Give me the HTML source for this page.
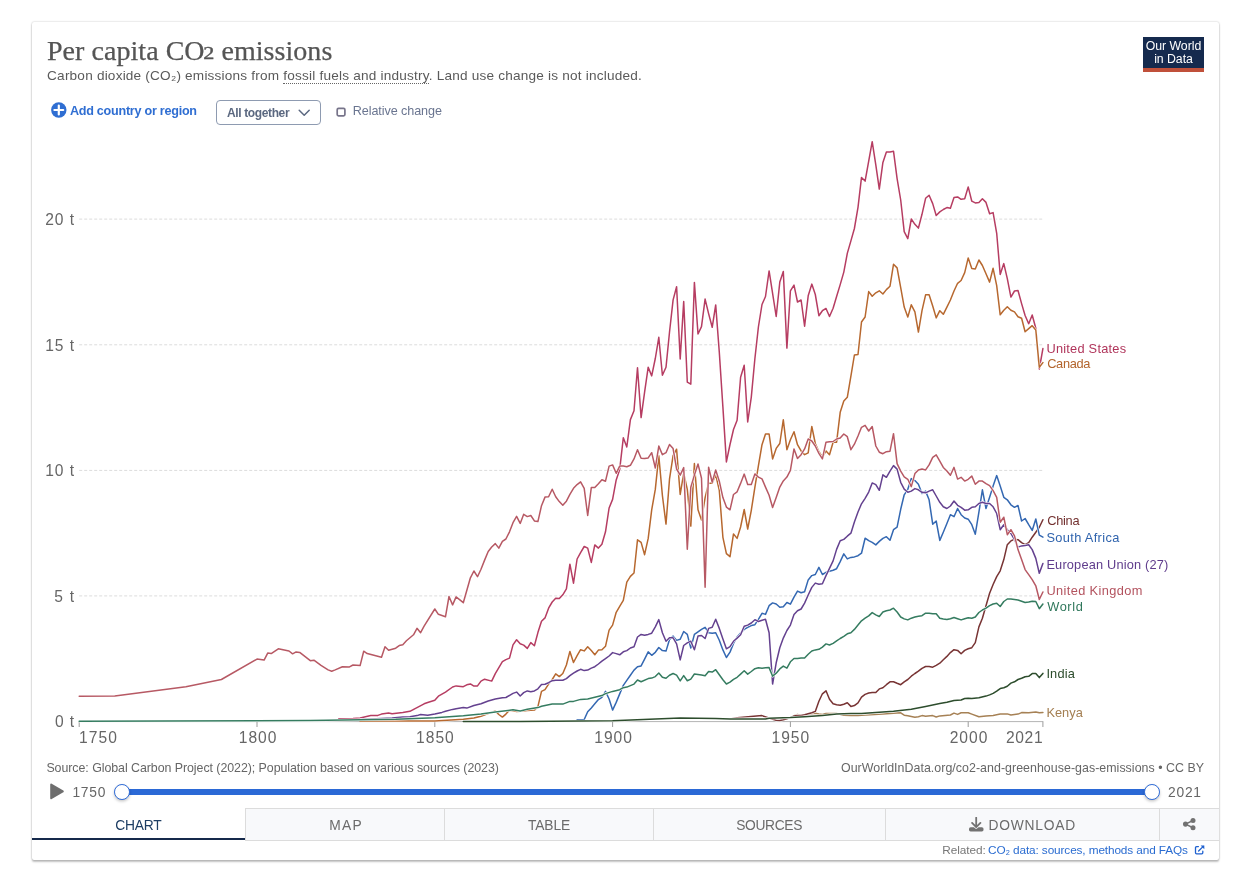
<!DOCTYPE html><html lang="en"><head><meta charset="utf-8"><title>Per capita CO₂ emissions</title><style>
html,body{margin:0;padding:0;background:#fff;}
body{width:1250px;height:882px;position:relative;overflow:hidden;}
.frame{position:absolute;left:32px;top:22px;width:1187px;height:838px;background:#fff;border-radius:2px;box-shadow:0 0 2px rgba(0,0,0,.27),0 2px 2px rgba(0,0,0,.23);}
.t{position:absolute;white-space:nowrap;}
.chart{position:absolute;left:0;top:0;}
.abs{position:absolute;}
.s2{display:inline-block;transform-origin:0 100%;transform:translate(-2.8px,-6.1px) scale(1.32,1.06);margin:0 -0.4px 0 0.4px;-webkit-text-stroke:0.35px #555;}
.dod{border-bottom:1px dotted #666;}
.logo{position:absolute;left:1143px;top:37px;width:61px;height:31px;background:#152a4e;border-bottom:4px solid #c0503a;color:#fff;font:400 12.3px/13px "Liberation Sans",sans-serif;text-align:center;letter-spacing:-0.05px;}
.logo span{display:block;}
.tab{position:absolute;top:808px;height:33px;background:#f8f9fb;border-top:1px solid #dcdcdc;border-left:1px solid #dcdcdc;border-bottom:1px solid #dcdcdc;box-sizing:border-box;}
</style></head><body>
<div class="frame"></div>
<div class="logo"><span style="margin-top:3px">Our World</span><span>in Data</span></div>
<svg class="abs" style="left:51px;top:102px" width="16" height="16" viewBox="0 0 16 16"><circle cx="7.8" cy="8" r="7.7" fill="#2f6ed2"/><path d="M7.8 3.6v8.8M3.4 8h8.8" stroke="#fff" stroke-width="2.2" stroke-linecap="round"/></svg>
<div class="abs" style="left:216px;top:100px;width:104.5px;height:25px;box-sizing:border-box;border:1px solid #8e9bb1;border-radius:4px;"></div>
<svg class="abs" style="left:297px;top:107px" width="14" height="12" viewBox="0 0 14 12"><path d="M2.2 3.3L7.2 8.3L12.2 3.3" fill="none" stroke="#5b6880" stroke-width="1.5" stroke-linecap="round" stroke-linejoin="round"/></svg>
<svg class="abs" style="left:334px;top:105px" width="14" height="14" viewBox="0 0 14 14"><rect x="3.2" y="3.4" width="7.7" height="7.4" rx="1.3" fill="#fff" stroke="#77748a" stroke-width="1.7"/></svg>
<svg class="chart" width="1250" height="882" viewBox="0 0 1250 882">
<line x1="79.2" x2="1042.8" y1="219.1" y2="219.1" stroke="#dcdcdc" stroke-width="1" stroke-dasharray="3,2"/>
<line x1="79.2" x2="1042.8" y1="344.8" y2="344.8" stroke="#dcdcdc" stroke-width="1" stroke-dasharray="3,2"/>
<line x1="79.2" x2="1042.8" y1="470.4" y2="470.4" stroke="#dcdcdc" stroke-width="1" stroke-dasharray="3,2"/>
<line x1="79.2" x2="1042.8" y1="595.9" y2="595.9" stroke="#dcdcdc" stroke-width="1" stroke-dasharray="3,2"/>
<line x1="79.2" x2="1043.3" y1="721.6" y2="721.6" stroke="#b4b4b4" stroke-width="1"/>
<line x1="79.2" x2="79.2" y1="721.6" y2="727" stroke="#9c9c9c" stroke-width="1"/>
<line x1="257.0" x2="257.0" y1="721.6" y2="727" stroke="#9c9c9c" stroke-width="1"/>
<line x1="434.8" x2="434.8" y1="721.6" y2="727" stroke="#9c9c9c" stroke-width="1"/>
<line x1="612.6" x2="612.6" y1="721.6" y2="727" stroke="#9c9c9c" stroke-width="1"/>
<line x1="790.4" x2="790.4" y1="721.6" y2="727" stroke="#9c9c9c" stroke-width="1"/>
<line x1="968.2" x2="968.2" y1="721.6" y2="727" stroke="#9c9c9c" stroke-width="1"/>
<line x1="1042.9" x2="1042.9" y1="721.6" y2="727" stroke="#9c9c9c" stroke-width="1"/>
<path d="M794.0,715.6 L797.5,714.4 L801.1,715.4 L808.2,714.0 L815.3,713.2 L818.9,714.0 L822.4,714.4 L826.0,713.6 L829.5,713.6 L836.6,713.4 L843.8,715.2 L850.9,715.4 L858.0,715.4 L861.5,715.2 L882.9,714.0 L897.1,713.0 L900.7,712.8 L904.2,715.2 L907.8,715.8 L911.3,716.4 L914.9,717.2 L918.4,716.8 L922.0,715.6 L925.6,716.2 L932.7,715.6 L936.2,717.0 L939.8,715.9 L950.4,715.0 L954.0,713.1 L957.6,714.4 L961.1,712.8 L968.2,712.8 L971.8,714.1 L978.9,716.8 L986.0,715.9 L993.1,715.4 L1000.2,714.1 L1007.3,713.9 L1010.9,715.0 L1018.0,714.1 L1021.6,712.6 L1028.7,712.8 L1035.8,711.9 L1039.3,712.8 L1042.9,712.4" fill="none" stroke="#fff" stroke-width="2.6" stroke-linejoin="round" stroke-linecap="butt"/>
<path d="M794.0,715.6 L797.5,714.4 L801.1,715.4 L808.2,714.0 L815.3,713.2 L818.9,714.0 L822.4,714.4 L826.0,713.6 L829.5,713.6 L836.6,713.4 L843.8,715.2 L850.9,715.4 L858.0,715.4 L861.5,715.2 L882.9,714.0 L897.1,713.0 L900.7,712.8 L904.2,715.2 L907.8,715.8 L911.3,716.4 L914.9,717.2 L918.4,716.8 L922.0,715.6 L925.6,716.2 L932.7,715.6 L936.2,717.0 L939.8,715.9 L950.4,715.0 L954.0,713.1 L957.6,714.4 L961.1,712.8 L968.2,712.8 L971.8,714.1 L978.9,716.8 L986.0,715.9 L993.1,715.4 L1000.2,714.1 L1007.3,713.9 L1010.9,715.0 L1018.0,714.1 L1021.6,712.6 L1028.7,712.8 L1035.8,711.9 L1039.3,712.8 L1042.9,712.4" fill="none" stroke="#a68155" stroke-width="1.5" stroke-linejoin="round" stroke-linecap="round"/>
<path d="M338.8,718.8 L353.0,718.4 L360.1,718.0 L370.8,715.6 L377.9,715.4 L381.5,714.1 L388.6,713.0 L392.1,713.7 L402.8,712.6 L409.9,711.3 L417.0,707.6 L424.1,703.8 L427.7,702.5 L434.8,700.3 L438.4,696.2 L445.5,692.1 L452.6,687.0 L456.1,685.9 L463.3,686.7 L466.8,684.8 L470.4,683.9 L473.9,686.1 L477.5,685.9 L481.0,681.1 L484.6,679.2 L491.7,681.1 L495.3,673.6 L502.4,661.7 L505.9,659.6 L509.5,658.1 L513.0,644.9 L516.6,639.8 L520.2,643.8 L523.7,645.1 L527.3,648.4 L530.8,642.6 L534.4,645.8 L537.9,632.6 L541.5,621.3 L545.0,617.9 L548.6,608.2 L552.2,602.0 L555.7,598.2 L559.3,598.6 L562.8,594.8 L566.4,588.9 L569.9,564.2 L573.5,583.2 L577.1,559.0 L580.6,552.6 L584.2,546.5 L587.7,548.1 L591.3,562.4 L594.8,544.9 L598.4,548.1 L601.9,544.2 L605.5,531.8 L609.1,508.0 L612.6,499.4 L616.2,479.9 L619.7,469.4 L623.3,437.8 L626.8,447.0 L630.4,419.6 L634.0,410.8 L637.5,367.7 L641.1,417.6 L644.6,392.1 L648.2,367.2 L651.7,375.9 L655.3,358.5 L658.8,337.3 L662.4,375.2 L666.0,367.2 L669.5,332.3 L673.1,299.9 L676.6,286.7 L680.2,359.0 L683.7,301.6 L687.3,382.2 L690.8,384.2 L694.4,282.4 L698.0,334.0 L701.5,326.6 L705.1,299.1 L708.6,313.6 L712.2,327.3 L715.7,304.9 L719.3,352.2 L722.9,407.1 L726.4,461.9 L730.0,444.5 L733.5,429.5 L737.1,420.3 L740.6,377.2 L744.2,365.2 L747.7,422.0 L751.3,397.1 L754.9,358.5 L758.4,327.0 L762.0,304.5 L765.5,296.5 L769.1,270.9 L772.6,293.3 L776.2,316.5 L779.8,282.1 L783.3,271.4 L786.9,348.1 L790.4,290.8 L794.0,285.1 L797.5,302.0 L801.1,300.0 L804.6,326.2 L808.2,295.8 L811.8,284.1 L815.3,294.5 L818.9,315.7 L822.4,310.7 L826.0,308.5 L829.5,316.5 L833.1,308.3 L836.6,296.5 L840.2,284.6 L843.8,272.1 L847.3,253.4 L850.9,240.9 L854.4,228.5 L858.0,207.3 L861.5,177.4 L865.1,181.1 L868.7,161.2 L872.2,141.7 L875.8,164.9 L879.3,189.1 L882.9,162.4 L886.4,151.9 L890.0,151.9 L893.5,151.2 L897.1,178.6 L900.7,200.0 L904.2,231.7 L907.8,238.6 L911.3,219.0 L914.9,224.3 L918.4,228.1 L922.0,214.3 L925.6,198.3 L929.1,195.2 L932.7,203.6 L936.2,215.5 L939.8,211.9 L943.3,209.5 L946.9,207.6 L950.4,208.3 L954.0,197.6 L957.6,196.9 L961.1,199.3 L964.7,198.8 L968.2,186.9 L971.8,201.2 L975.3,202.9 L978.9,202.4 L982.4,198.8 L986.0,202.4 L989.6,213.8 L993.1,212.6 L996.7,233.3 L1000.2,274.5 L1003.8,263.6 L1007.3,278.6 L1010.9,297.1 L1014.5,291.0 L1018.0,290.5 L1021.6,303.6 L1025.1,315.5 L1028.7,323.8 L1032.2,315.0 L1035.8,328.2 L1039.3,369.0 L1042.9,348.6" fill="none" stroke="#fff" stroke-width="2.6" stroke-linejoin="round" stroke-linecap="butt"/>
<path d="M338.8,718.8 L353.0,718.4 L360.1,718.0 L370.8,715.6 L377.9,715.4 L381.5,714.1 L388.6,713.0 L392.1,713.7 L402.8,712.6 L409.9,711.3 L417.0,707.6 L424.1,703.8 L427.7,702.5 L434.8,700.3 L438.4,696.2 L445.5,692.1 L452.6,687.0 L456.1,685.9 L463.3,686.7 L466.8,684.8 L470.4,683.9 L473.9,686.1 L477.5,685.9 L481.0,681.1 L484.6,679.2 L491.7,681.1 L495.3,673.6 L502.4,661.7 L505.9,659.6 L509.5,658.1 L513.0,644.9 L516.6,639.8 L520.2,643.8 L523.7,645.1 L527.3,648.4 L530.8,642.6 L534.4,645.8 L537.9,632.6 L541.5,621.3 L545.0,617.9 L548.6,608.2 L552.2,602.0 L555.7,598.2 L559.3,598.6 L562.8,594.8 L566.4,588.9 L569.9,564.2 L573.5,583.2 L577.1,559.0 L580.6,552.6 L584.2,546.5 L587.7,548.1 L591.3,562.4 L594.8,544.9 L598.4,548.1 L601.9,544.2 L605.5,531.8 L609.1,508.0 L612.6,499.4 L616.2,479.9 L619.7,469.4 L623.3,437.8 L626.8,447.0 L630.4,419.6 L634.0,410.8 L637.5,367.7 L641.1,417.6 L644.6,392.1 L648.2,367.2 L651.7,375.9 L655.3,358.5 L658.8,337.3 L662.4,375.2 L666.0,367.2 L669.5,332.3 L673.1,299.9 L676.6,286.7 L680.2,359.0 L683.7,301.6 L687.3,382.2 L690.8,384.2 L694.4,282.4 L698.0,334.0 L701.5,326.6 L705.1,299.1 L708.6,313.6 L712.2,327.3 L715.7,304.9 L719.3,352.2 L722.9,407.1 L726.4,461.9 L730.0,444.5 L733.5,429.5 L737.1,420.3 L740.6,377.2 L744.2,365.2 L747.7,422.0 L751.3,397.1 L754.9,358.5 L758.4,327.0 L762.0,304.5 L765.5,296.5 L769.1,270.9 L772.6,293.3 L776.2,316.5 L779.8,282.1 L783.3,271.4 L786.9,348.1 L790.4,290.8 L794.0,285.1 L797.5,302.0 L801.1,300.0 L804.6,326.2 L808.2,295.8 L811.8,284.1 L815.3,294.5 L818.9,315.7 L822.4,310.7 L826.0,308.5 L829.5,316.5 L833.1,308.3 L836.6,296.5 L840.2,284.6 L843.8,272.1 L847.3,253.4 L850.9,240.9 L854.4,228.5 L858.0,207.3 L861.5,177.4 L865.1,181.1 L868.7,161.2 L872.2,141.7 L875.8,164.9 L879.3,189.1 L882.9,162.4 L886.4,151.9 L890.0,151.9 L893.5,151.2 L897.1,178.6 L900.7,200.0 L904.2,231.7 L907.8,238.6 L911.3,219.0 L914.9,224.3 L918.4,228.1 L922.0,214.3 L925.6,198.3 L929.1,195.2 L932.7,203.6 L936.2,215.5 L939.8,211.9 L943.3,209.5 L946.9,207.6 L950.4,208.3 L954.0,197.6 L957.6,196.9 L961.1,199.3 L964.7,198.8 L968.2,186.9 L971.8,201.2 L975.3,202.9 L978.9,202.4 L982.4,198.8 L986.0,202.4 L989.6,213.8 L993.1,212.6 L996.7,233.3 L1000.2,274.5 L1003.8,263.6 L1007.3,278.6 L1010.9,297.1 L1014.5,291.0 L1018.0,290.5 L1021.6,303.6 L1025.1,315.5 L1028.7,323.8 L1032.2,315.0 L1035.8,328.2 L1039.3,369.0 L1042.9,348.6" fill="none" stroke="#b63d62" stroke-width="1.5" stroke-linejoin="round" stroke-linecap="round"/>
<path d="M360.1,721.0 L434.8,721.0 L463.3,719.3 L473.9,718.0 L481.0,716.3 L488.2,713.5 L491.7,712.4 L495.3,710.9 L498.8,714.5 L502.4,717.1 L505.9,714.1 L509.5,710.2 L513.0,710.7 L516.6,711.5 L520.2,711.3 L527.3,710.6 L534.4,710.1 L537.9,706.7 L541.5,691.4 L545.0,689.7 L548.6,684.1 L552.2,679.5 L555.7,673.9 L559.3,676.6 L562.8,673.5 L566.4,665.0 L569.9,651.4 L573.5,662.5 L577.1,655.7 L580.6,649.7 L584.2,650.9 L587.7,646.8 L591.3,650.6 L594.8,654.8 L598.4,650.1 L601.9,649.7 L605.5,646.3 L609.1,630.2 L612.6,625.1 L616.2,612.3 L619.7,606.4 L623.3,600.4 L626.8,582.2 L630.4,576.4 L634.0,573.0 L637.5,539.8 L641.1,542.4 L644.6,554.7 L648.2,538.4 L651.7,509.8 L655.3,489.4 L658.8,455.7 L662.4,495.5 L666.0,524.1 L669.5,479.2 L673.1,455.7 L676.6,449.2 L680.2,494.5 L683.7,473.1 L687.3,489.4 L690.8,526.1 L694.4,463.5 L698.0,509.8 L701.5,520.0 L705.1,497.6 L708.6,483.3 L712.2,483.3 L715.7,474.7 L719.3,490.4 L722.9,537.3 L726.4,553.7 L730.0,556.7 L733.5,533.9 L737.1,538.4 L740.6,527.0 L744.2,509.5 L747.7,529.0 L751.3,510.3 L754.9,487.1 L758.4,465.9 L762.0,444.7 L765.5,434.0 L769.1,434.0 L772.6,458.9 L776.2,448.4 L779.8,443.5 L783.3,419.8 L786.9,449.7 L790.4,439.7 L794.0,431.7 L797.5,444.7 L801.1,450.9 L804.6,454.7 L808.2,452.9 L811.8,426.5 L815.3,443.5 L818.9,451.7 L822.4,457.2 L826.0,450.9 L829.5,454.7 L833.1,442.2 L836.6,442.2 L840.2,412.3 L843.8,401.1 L847.3,397.3 L850.9,376.1 L854.4,355.0 L858.0,354.5 L861.5,322.0 L865.1,317.0 L868.7,291.6 L872.2,296.3 L875.8,292.8 L879.3,290.8 L882.9,294.0 L886.4,289.6 L890.0,286.2 L893.5,264.3 L897.1,267.9 L900.7,287.6 L904.2,307.1 L907.8,317.1 L911.3,304.8 L914.9,311.9 L918.4,332.1 L922.0,310.7 L925.6,294.8 L929.1,294.8 L932.7,306.0 L936.2,317.9 L939.8,310.7 L943.3,314.3 L946.9,307.1 L950.4,300.0 L954.0,291.0 L957.6,283.3 L961.1,280.5 L964.7,272.6 L968.2,257.9 L971.8,268.6 L975.3,269.0 L978.9,260.0 L982.4,265.5 L986.0,273.8 L989.6,282.1 L993.1,268.3 L996.7,285.7 L1000.2,314.8 L1003.8,310.2 L1007.3,306.7 L1010.9,310.2 L1014.5,311.9 L1018.0,316.7 L1021.6,318.3 L1025.1,331.7 L1028.7,328.6 L1032.2,325.7 L1035.8,330.0 L1039.3,367.2 L1042.9,362.6" fill="none" stroke="#fff" stroke-width="2.6" stroke-linejoin="round" stroke-linecap="butt"/>
<path d="M360.1,721.0 L434.8,721.0 L463.3,719.3 L473.9,718.0 L481.0,716.3 L488.2,713.5 L491.7,712.4 L495.3,710.9 L498.8,714.5 L502.4,717.1 L505.9,714.1 L509.5,710.2 L513.0,710.7 L516.6,711.5 L520.2,711.3 L527.3,710.6 L534.4,710.1 L537.9,706.7 L541.5,691.4 L545.0,689.7 L548.6,684.1 L552.2,679.5 L555.7,673.9 L559.3,676.6 L562.8,673.5 L566.4,665.0 L569.9,651.4 L573.5,662.5 L577.1,655.7 L580.6,649.7 L584.2,650.9 L587.7,646.8 L591.3,650.6 L594.8,654.8 L598.4,650.1 L601.9,649.7 L605.5,646.3 L609.1,630.2 L612.6,625.1 L616.2,612.3 L619.7,606.4 L623.3,600.4 L626.8,582.2 L630.4,576.4 L634.0,573.0 L637.5,539.8 L641.1,542.4 L644.6,554.7 L648.2,538.4 L651.7,509.8 L655.3,489.4 L658.8,455.7 L662.4,495.5 L666.0,524.1 L669.5,479.2 L673.1,455.7 L676.6,449.2 L680.2,494.5 L683.7,473.1 L687.3,489.4 L690.8,526.1 L694.4,463.5 L698.0,509.8 L701.5,520.0 L705.1,497.6 L708.6,483.3 L712.2,483.3 L715.7,474.7 L719.3,490.4 L722.9,537.3 L726.4,553.7 L730.0,556.7 L733.5,533.9 L737.1,538.4 L740.6,527.0 L744.2,509.5 L747.7,529.0 L751.3,510.3 L754.9,487.1 L758.4,465.9 L762.0,444.7 L765.5,434.0 L769.1,434.0 L772.6,458.9 L776.2,448.4 L779.8,443.5 L783.3,419.8 L786.9,449.7 L790.4,439.7 L794.0,431.7 L797.5,444.7 L801.1,450.9 L804.6,454.7 L808.2,452.9 L811.8,426.5 L815.3,443.5 L818.9,451.7 L822.4,457.2 L826.0,450.9 L829.5,454.7 L833.1,442.2 L836.6,442.2 L840.2,412.3 L843.8,401.1 L847.3,397.3 L850.9,376.1 L854.4,355.0 L858.0,354.5 L861.5,322.0 L865.1,317.0 L868.7,291.6 L872.2,296.3 L875.8,292.8 L879.3,290.8 L882.9,294.0 L886.4,289.6 L890.0,286.2 L893.5,264.3 L897.1,267.9 L900.7,287.6 L904.2,307.1 L907.8,317.1 L911.3,304.8 L914.9,311.9 L918.4,332.1 L922.0,310.7 L925.6,294.8 L929.1,294.8 L932.7,306.0 L936.2,317.9 L939.8,310.7 L943.3,314.3 L946.9,307.1 L950.4,300.0 L954.0,291.0 L957.6,283.3 L961.1,280.5 L964.7,272.6 L968.2,257.9 L971.8,268.6 L975.3,269.0 L978.9,260.0 L982.4,265.5 L986.0,273.8 L989.6,282.1 L993.1,268.3 L996.7,285.7 L1000.2,314.8 L1003.8,310.2 L1007.3,306.7 L1010.9,310.2 L1014.5,311.9 L1018.0,316.7 L1021.6,318.3 L1025.1,331.7 L1028.7,328.6 L1032.2,325.7 L1035.8,330.0 L1039.3,367.2 L1042.9,362.6" fill="none" stroke="#b7682f" stroke-width="1.5" stroke-linejoin="round" stroke-linecap="round"/>
<path d="M730.0,718.9 L737.1,717.8 L762.0,715.6 L772.6,719.2 L776.2,720.2 L779.8,720.4 L783.3,719.8 L786.9,718.8 L790.4,717.6 L794.0,716.0 L797.5,715.4 L801.1,715.6 L804.6,714.8 L808.2,713.8 L811.8,712.8 L815.3,711.4 L818.9,701.2 L822.4,693.8 L826.0,690.8 L829.5,699.2 L833.1,703.8 L836.6,704.8 L840.2,705.2 L843.8,704.2 L847.3,702.8 L850.9,706.4 L854.4,705.6 L858.0,702.8 L861.5,697.2 L865.1,694.4 L868.7,693.0 L872.2,692.5 L875.8,692.5 L879.3,688.9 L882.9,687.8 L886.4,684.7 L890.0,681.8 L893.5,681.8 L897.1,683.3 L900.7,684.7 L904.2,681.8 L907.8,679.5 L911.3,676.2 L914.9,673.5 L918.4,671.2 L922.0,668.3 L925.6,666.5 L929.1,666.5 L932.7,667.2 L936.2,665.4 L939.8,663.2 L943.3,659.8 L946.9,656.4 L950.4,652.6 L954.0,649.7 L957.6,650.4 L961.1,653.8 L964.7,650.4 L968.2,648.8 L971.8,647.7 L975.3,642.6 L978.9,626.9 L982.4,618.2 L986.0,605.7 L989.6,593.3 L993.1,584.5 L996.7,576.6 L1000.2,570.8 L1003.8,559.6 L1007.3,544.7 L1010.9,540.9 L1014.5,539.2 L1018.0,539.7 L1021.6,542.7 L1025.1,544.7 L1028.7,542.7 L1032.2,537.2 L1035.8,532.2 L1039.3,527.2 L1042.9,519.7" fill="none" stroke="#fff" stroke-width="2.6" stroke-linejoin="round" stroke-linecap="butt"/>
<path d="M730.0,718.9 L737.1,717.8 L762.0,715.6 L772.6,719.2 L776.2,720.2 L779.8,720.4 L783.3,719.8 L786.9,718.8 L790.4,717.6 L794.0,716.0 L797.5,715.4 L801.1,715.6 L804.6,714.8 L808.2,713.8 L811.8,712.8 L815.3,711.4 L818.9,701.2 L822.4,693.8 L826.0,690.8 L829.5,699.2 L833.1,703.8 L836.6,704.8 L840.2,705.2 L843.8,704.2 L847.3,702.8 L850.9,706.4 L854.4,705.6 L858.0,702.8 L861.5,697.2 L865.1,694.4 L868.7,693.0 L872.2,692.5 L875.8,692.5 L879.3,688.9 L882.9,687.8 L886.4,684.7 L890.0,681.8 L893.5,681.8 L897.1,683.3 L900.7,684.7 L904.2,681.8 L907.8,679.5 L911.3,676.2 L914.9,673.5 L918.4,671.2 L922.0,668.3 L925.6,666.5 L929.1,666.5 L932.7,667.2 L936.2,665.4 L939.8,663.2 L943.3,659.8 L946.9,656.4 L950.4,652.6 L954.0,649.7 L957.6,650.4 L961.1,653.8 L964.7,650.4 L968.2,648.8 L971.8,647.7 L975.3,642.6 L978.9,626.9 L982.4,618.2 L986.0,605.7 L989.6,593.3 L993.1,584.5 L996.7,576.6 L1000.2,570.8 L1003.8,559.6 L1007.3,544.7 L1010.9,540.9 L1014.5,539.2 L1018.0,539.7 L1021.6,542.7 L1025.1,544.7 L1028.7,542.7 L1032.2,537.2 L1035.8,532.2 L1039.3,527.2 L1042.9,519.7" fill="none" stroke="#783434" stroke-width="1.5" stroke-linejoin="round" stroke-linecap="round"/>
<path d="M577.1,719.8 L584.2,719.5 L587.7,711.8 L591.3,707.9 L594.8,703.8 L598.4,699.6 L601.9,697.3 L605.5,691.4 L609.1,699.0 L612.6,710.1 L616.2,702.4 L619.7,693.9 L623.3,685.4 L626.8,680.3 L630.4,675.2 L634.0,670.1 L637.5,666.7 L641.1,665.9 L644.6,659.1 L648.2,651.9 L651.7,655.3 L655.3,652.3 L658.8,647.5 L662.4,650.6 L666.0,651.1 L669.5,639.5 L673.1,636.1 L676.6,640.4 L680.2,639.2 L683.7,631.5 L687.3,634.4 L690.8,648.0 L694.4,634.4 L698.0,631.9 L701.5,629.4 L705.1,627.3 L708.6,632.7 L712.2,633.3 L715.7,632.7 L719.3,640.2 L722.9,649.9 L726.4,657.5 L730.0,652.1 L733.5,643.4 L737.1,637.0 L740.6,633.1 L744.2,629.4 L747.7,627.3 L751.3,625.6 L754.9,624.7 L758.4,619.3 L762.0,613.3 L765.5,614.4 L769.1,605.7 L772.6,602.9 L776.2,604.0 L779.8,607.2 L783.3,606.8 L786.9,602.5 L790.4,604.2 L794.0,597.1 L797.5,591.1 L801.1,592.8 L804.6,591.7 L808.2,579.9 L811.8,575.6 L815.3,574.5 L818.9,567.4 L822.4,574.5 L826.0,572.3 L829.5,571.2 L833.1,570.2 L836.6,568.7 L840.2,561.6 L843.8,553.9 L847.3,558.9 L850.9,557.4 L854.4,556.9 L858.0,555.7 L861.5,553.2 L865.1,538.2 L868.7,540.7 L872.2,542.4 L875.8,544.9 L879.3,541.4 L882.9,538.4 L886.4,536.7 L890.0,540.2 L893.5,529.7 L897.1,527.2 L900.7,509.3 L904.2,494.8 L907.8,489.3 L911.3,478.6 L914.9,480.6 L918.4,484.3 L922.0,493.5 L925.6,491.1 L929.1,499.8 L932.7,524.2 L936.2,521.0 L939.8,540.4 L943.3,532.2 L946.9,523.5 L950.4,514.7 L954.0,516.7 L957.6,508.5 L961.1,514.7 L964.7,518.0 L968.2,519.2 L971.8,524.7 L975.3,534.2 L978.9,512.2 L982.4,489.8 L986.0,508.5 L989.6,497.3 L993.1,486.1 L996.7,475.6 L1000.2,486.1 L1003.8,497.3 L1007.3,499.8 L1010.9,504.8 L1014.5,507.3 L1018.0,505.5 L1021.6,521.0 L1025.1,518.5 L1028.7,524.7 L1032.2,530.4 L1035.8,519.0 L1039.3,535.2 L1042.9,537.2" fill="none" stroke="#fff" stroke-width="2.6" stroke-linejoin="round" stroke-linecap="butt"/>
<path d="M577.1,719.8 L584.2,719.5 L587.7,711.8 L591.3,707.9 L594.8,703.8 L598.4,699.6 L601.9,697.3 L605.5,691.4 L609.1,699.0 L612.6,710.1 L616.2,702.4 L619.7,693.9 L623.3,685.4 L626.8,680.3 L630.4,675.2 L634.0,670.1 L637.5,666.7 L641.1,665.9 L644.6,659.1 L648.2,651.9 L651.7,655.3 L655.3,652.3 L658.8,647.5 L662.4,650.6 L666.0,651.1 L669.5,639.5 L673.1,636.1 L676.6,640.4 L680.2,639.2 L683.7,631.5 L687.3,634.4 L690.8,648.0 L694.4,634.4 L698.0,631.9 L701.5,629.4 L705.1,627.3 L708.6,632.7 L712.2,633.3 L715.7,632.7 L719.3,640.2 L722.9,649.9 L726.4,657.5 L730.0,652.1 L733.5,643.4 L737.1,637.0 L740.6,633.1 L744.2,629.4 L747.7,627.3 L751.3,625.6 L754.9,624.7 L758.4,619.3 L762.0,613.3 L765.5,614.4 L769.1,605.7 L772.6,602.9 L776.2,604.0 L779.8,607.2 L783.3,606.8 L786.9,602.5 L790.4,604.2 L794.0,597.1 L797.5,591.1 L801.1,592.8 L804.6,591.7 L808.2,579.9 L811.8,575.6 L815.3,574.5 L818.9,567.4 L822.4,574.5 L826.0,572.3 L829.5,571.2 L833.1,570.2 L836.6,568.7 L840.2,561.6 L843.8,553.9 L847.3,558.9 L850.9,557.4 L854.4,556.9 L858.0,555.7 L861.5,553.2 L865.1,538.2 L868.7,540.7 L872.2,542.4 L875.8,544.9 L879.3,541.4 L882.9,538.4 L886.4,536.7 L890.0,540.2 L893.5,529.7 L897.1,527.2 L900.7,509.3 L904.2,494.8 L907.8,489.3 L911.3,478.6 L914.9,480.6 L918.4,484.3 L922.0,493.5 L925.6,491.1 L929.1,499.8 L932.7,524.2 L936.2,521.0 L939.8,540.4 L943.3,532.2 L946.9,523.5 L950.4,514.7 L954.0,516.7 L957.6,508.5 L961.1,514.7 L964.7,518.0 L968.2,519.2 L971.8,524.7 L975.3,534.2 L978.9,512.2 L982.4,489.8 L986.0,508.5 L989.6,497.3 L993.1,486.1 L996.7,475.6 L1000.2,486.1 L1003.8,497.3 L1007.3,499.8 L1010.9,504.8 L1014.5,507.3 L1018.0,505.5 L1021.6,521.0 L1025.1,518.5 L1028.7,524.7 L1032.2,530.4 L1035.8,519.0 L1039.3,535.2 L1042.9,537.2" fill="none" stroke="#3468b2" stroke-width="1.5" stroke-linejoin="round" stroke-linecap="round"/>
<path d="M360.1,719.5 L381.5,718.4 L392.1,718.0 L402.8,717.1 L409.9,716.7 L417.0,715.6 L420.6,714.5 L427.7,715.2 L434.8,714.1 L441.9,712.4 L445.5,711.3 L452.6,709.4 L456.1,708.7 L463.3,707.6 L466.8,708.1 L473.9,705.5 L481.0,703.8 L488.2,701.0 L495.3,699.0 L502.4,697.7 L505.9,697.5 L513.0,693.4 L516.6,692.1 L520.2,696.0 L523.7,692.6 L527.3,690.9 L530.8,691.7 L534.4,690.9 L537.9,688.8 L541.5,684.6 L545.0,684.3 L548.6,682.7 L552.2,680.7 L555.7,680.3 L559.3,680.3 L562.8,680.3 L566.4,678.6 L569.9,675.7 L573.5,673.2 L577.1,671.0 L580.6,669.3 L584.2,670.6 L587.7,670.1 L591.3,668.1 L594.8,666.7 L598.4,664.0 L601.9,661.1 L605.5,658.7 L609.1,656.0 L612.6,652.6 L616.2,653.6 L619.7,654.8 L623.3,651.8 L626.8,650.6 L630.4,648.0 L634.0,646.8 L637.5,637.0 L641.1,634.4 L644.6,635.3 L648.2,634.4 L651.7,633.2 L655.3,626.8 L658.8,619.6 L662.4,632.7 L666.0,641.2 L669.5,637.8 L673.1,637.8 L676.6,643.8 L680.2,659.9 L683.7,645.5 L687.3,642.9 L690.8,641.2 L694.4,649.7 L698.0,636.1 L701.5,635.5 L705.1,638.5 L708.6,628.4 L712.2,627.3 L715.7,619.3 L719.3,628.4 L722.9,639.1 L726.4,648.8 L730.0,646.7 L733.5,641.3 L737.1,638.1 L740.6,634.8 L744.2,626.2 L747.7,625.1 L751.3,623.0 L754.9,619.7 L758.4,621.5 L762.0,620.2 L765.5,619.3 L769.1,632.7 L772.6,684.0 L776.2,662.8 L779.8,647.8 L783.3,638.1 L786.9,630.5 L790.4,625.1 L794.0,614.4 L797.5,610.7 L801.1,609.0 L804.6,603.1 L808.2,595.0 L811.8,587.4 L815.3,583.1 L818.9,584.2 L822.4,583.8 L826.0,575.6 L829.5,568.4 L833.1,560.9 L836.6,549.4 L840.2,540.7 L843.8,539.4 L847.3,536.2 L850.9,533.2 L854.4,522.0 L858.0,512.0 L861.5,503.8 L865.1,498.3 L868.7,492.1 L872.2,482.9 L875.8,484.6 L879.3,490.3 L882.9,474.8 L886.4,477.3 L890.0,471.1 L893.5,465.6 L897.1,469.1 L900.7,482.3 L904.2,489.1 L907.8,492.3 L911.3,491.1 L914.9,488.6 L918.4,489.8 L922.0,492.3 L925.6,492.8 L929.1,491.1 L932.7,489.8 L936.2,496.0 L939.8,502.3 L943.3,506.8 L946.9,508.5 L950.4,506.0 L954.0,501.0 L957.6,505.3 L961.1,507.3 L964.7,510.2 L968.2,509.8 L971.8,507.3 L975.3,506.8 L978.9,503.5 L982.4,502.3 L986.0,503.5 L989.6,503.5 L993.1,506.8 L996.7,513.5 L1000.2,529.7 L1003.8,524.7 L1007.3,529.7 L1010.9,533.4 L1014.5,539.7 L1018.0,547.1 L1021.6,545.9 L1025.1,545.4 L1028.7,544.7 L1032.2,549.6 L1035.8,558.4 L1039.3,573.3 L1042.9,563.4" fill="none" stroke="#fff" stroke-width="2.6" stroke-linejoin="round" stroke-linecap="butt"/>
<path d="M360.1,719.5 L381.5,718.4 L392.1,718.0 L402.8,717.1 L409.9,716.7 L417.0,715.6 L420.6,714.5 L427.7,715.2 L434.8,714.1 L441.9,712.4 L445.5,711.3 L452.6,709.4 L456.1,708.7 L463.3,707.6 L466.8,708.1 L473.9,705.5 L481.0,703.8 L488.2,701.0 L495.3,699.0 L502.4,697.7 L505.9,697.5 L513.0,693.4 L516.6,692.1 L520.2,696.0 L523.7,692.6 L527.3,690.9 L530.8,691.7 L534.4,690.9 L537.9,688.8 L541.5,684.6 L545.0,684.3 L548.6,682.7 L552.2,680.7 L555.7,680.3 L559.3,680.3 L562.8,680.3 L566.4,678.6 L569.9,675.7 L573.5,673.2 L577.1,671.0 L580.6,669.3 L584.2,670.6 L587.7,670.1 L591.3,668.1 L594.8,666.7 L598.4,664.0 L601.9,661.1 L605.5,658.7 L609.1,656.0 L612.6,652.6 L616.2,653.6 L619.7,654.8 L623.3,651.8 L626.8,650.6 L630.4,648.0 L634.0,646.8 L637.5,637.0 L641.1,634.4 L644.6,635.3 L648.2,634.4 L651.7,633.2 L655.3,626.8 L658.8,619.6 L662.4,632.7 L666.0,641.2 L669.5,637.8 L673.1,637.8 L676.6,643.8 L680.2,659.9 L683.7,645.5 L687.3,642.9 L690.8,641.2 L694.4,649.7 L698.0,636.1 L701.5,635.5 L705.1,638.5 L708.6,628.4 L712.2,627.3 L715.7,619.3 L719.3,628.4 L722.9,639.1 L726.4,648.8 L730.0,646.7 L733.5,641.3 L737.1,638.1 L740.6,634.8 L744.2,626.2 L747.7,625.1 L751.3,623.0 L754.9,619.7 L758.4,621.5 L762.0,620.2 L765.5,619.3 L769.1,632.7 L772.6,684.0 L776.2,662.8 L779.8,647.8 L783.3,638.1 L786.9,630.5 L790.4,625.1 L794.0,614.4 L797.5,610.7 L801.1,609.0 L804.6,603.1 L808.2,595.0 L811.8,587.4 L815.3,583.1 L818.9,584.2 L822.4,583.8 L826.0,575.6 L829.5,568.4 L833.1,560.9 L836.6,549.4 L840.2,540.7 L843.8,539.4 L847.3,536.2 L850.9,533.2 L854.4,522.0 L858.0,512.0 L861.5,503.8 L865.1,498.3 L868.7,492.1 L872.2,482.9 L875.8,484.6 L879.3,490.3 L882.9,474.8 L886.4,477.3 L890.0,471.1 L893.5,465.6 L897.1,469.1 L900.7,482.3 L904.2,489.1 L907.8,492.3 L911.3,491.1 L914.9,488.6 L918.4,489.8 L922.0,492.3 L925.6,492.8 L929.1,491.1 L932.7,489.8 L936.2,496.0 L939.8,502.3 L943.3,506.8 L946.9,508.5 L950.4,506.0 L954.0,501.0 L957.6,505.3 L961.1,507.3 L964.7,510.2 L968.2,509.8 L971.8,507.3 L975.3,506.8 L978.9,503.5 L982.4,502.3 L986.0,503.5 L989.6,503.5 L993.1,506.8 L996.7,513.5 L1000.2,529.7 L1003.8,524.7 L1007.3,529.7 L1010.9,533.4 L1014.5,539.7 L1018.0,547.1 L1021.6,545.9 L1025.1,545.4 L1028.7,544.7 L1032.2,549.6 L1035.8,558.4 L1039.3,573.3 L1042.9,563.4" fill="none" stroke="#64418f" stroke-width="1.5" stroke-linejoin="round" stroke-linecap="round"/>
<path d="M79.2,696.3 L114.8,696.1 L185.9,686.7 L221.4,679.5 L257.0,659.1 L264.1,660.1 L267.7,653.1 L271.2,653.6 L278.3,648.8 L289.0,651.0 L292.6,653.8 L296.1,651.9 L299.7,652.4 L310.3,660.7 L313.9,660.2 L321.0,665.4 L328.1,669.9 L331.7,671.2 L335.2,669.9 L342.4,666.7 L349.5,666.9 L353.0,665.0 L360.1,665.6 L363.7,651.2 L367.2,653.6 L381.5,657.2 L385.0,646.7 L388.6,650.3 L395.7,648.2 L399.2,645.6 L402.8,644.7 L406.4,640.8 L413.5,634.8 L417.0,628.3 L420.6,632.7 L424.1,626.2 L434.8,609.0 L438.4,614.3 L445.5,616.7 L449.0,596.5 L452.6,604.9 L456.1,596.9 L463.3,602.7 L470.4,577.8 L473.9,571.0 L477.5,576.7 L481.0,569.2 L484.6,560.1 L488.2,551.5 L491.7,547.0 L495.3,543.6 L498.8,548.1 L502.4,541.3 L505.9,539.0 L509.5,531.8 L513.0,522.7 L516.6,516.4 L520.2,523.4 L523.7,514.3 L527.3,516.6 L530.8,515.5 L534.4,520.9 L537.9,521.6 L541.5,505.7 L545.0,497.1 L548.6,496.7 L552.2,489.2 L555.7,496.7 L559.3,501.6 L562.8,505.3 L566.4,501.2 L569.9,494.4 L573.5,488.3 L577.1,484.6 L580.6,481.9 L584.2,488.3 L587.7,515.5 L591.3,487.6 L594.8,487.6 L598.4,483.7 L601.9,479.7 L605.5,481.2 L609.1,466.1 L612.6,464.9 L616.2,473.3 L619.7,466.1 L623.3,466.1 L626.8,466.7 L630.4,465.3 L634.0,458.9 L637.5,449.7 L641.1,458.3 L644.6,458.5 L648.2,457.9 L651.7,452.7 L655.3,468.0 L658.8,446.1 L662.4,454.7 L666.0,452.7 L669.5,444.5 L673.1,448.6 L676.6,469.0 L680.2,475.1 L683.7,467.6 L687.3,549.2 L690.8,487.3 L694.4,475.1 L698.0,463.9 L701.5,478.2 L705.1,587.3 L708.6,467.3 L712.2,482.2 L715.7,470.0 L719.3,481.2 L722.9,497.6 L726.4,507.1 L730.0,509.8 L733.5,494.5 L737.1,491.8 L740.6,483.4 L744.2,474.1 L747.7,484.6 L751.3,484.6 L754.9,473.9 L758.4,477.1 L762.0,478.9 L765.5,487.1 L769.1,495.3 L772.6,507.5 L776.2,497.6 L779.8,487.1 L783.3,480.9 L786.9,477.1 L790.4,470.4 L794.0,448.9 L797.5,458.4 L801.1,454.7 L804.6,448.9 L808.2,439.0 L811.8,441.0 L815.3,446.0 L818.9,453.4 L822.4,458.9 L826.0,442.2 L829.5,441.7 L833.1,441.5 L836.6,439.0 L840.2,438.0 L843.8,434.0 L847.3,436.7 L850.9,449.7 L854.4,444.2 L858.0,436.0 L861.5,427.3 L865.1,425.3 L868.7,431.0 L872.2,426.5 L875.8,446.0 L879.3,452.2 L882.9,453.7 L886.4,451.7 L890.0,451.2 L893.5,433.7 L897.1,463.6 L900.7,471.1 L904.2,476.8 L907.8,479.3 L911.3,486.6 L914.9,473.6 L918.4,469.9 L922.0,469.1 L925.6,469.9 L929.1,464.9 L932.7,457.4 L936.2,454.9 L939.8,461.1 L943.3,467.4 L946.9,471.1 L950.4,475.3 L954.0,467.4 L957.6,479.1 L961.1,477.3 L964.7,481.1 L968.2,479.3 L971.8,476.1 L975.3,484.3 L978.9,481.1 L982.4,481.1 L986.0,483.6 L989.6,485.6 L993.1,490.6 L996.7,497.3 L1000.2,522.2 L1003.8,517.2 L1007.3,534.7 L1010.9,529.7 L1014.5,535.9 L1018.0,549.6 L1021.6,559.6 L1025.1,569.6 L1028.7,574.6 L1032.2,579.6 L1035.8,585.8 L1039.3,599.5 L1042.9,592.0" fill="none" stroke="#fff" stroke-width="2.6" stroke-linejoin="round" stroke-linecap="butt"/>
<path d="M79.2,696.3 L114.8,696.1 L185.9,686.7 L221.4,679.5 L257.0,659.1 L264.1,660.1 L267.7,653.1 L271.2,653.6 L278.3,648.8 L289.0,651.0 L292.6,653.8 L296.1,651.9 L299.7,652.4 L310.3,660.7 L313.9,660.2 L321.0,665.4 L328.1,669.9 L331.7,671.2 L335.2,669.9 L342.4,666.7 L349.5,666.9 L353.0,665.0 L360.1,665.6 L363.7,651.2 L367.2,653.6 L381.5,657.2 L385.0,646.7 L388.6,650.3 L395.7,648.2 L399.2,645.6 L402.8,644.7 L406.4,640.8 L413.5,634.8 L417.0,628.3 L420.6,632.7 L424.1,626.2 L434.8,609.0 L438.4,614.3 L445.5,616.7 L449.0,596.5 L452.6,604.9 L456.1,596.9 L463.3,602.7 L470.4,577.8 L473.9,571.0 L477.5,576.7 L481.0,569.2 L484.6,560.1 L488.2,551.5 L491.7,547.0 L495.3,543.6 L498.8,548.1 L502.4,541.3 L505.9,539.0 L509.5,531.8 L513.0,522.7 L516.6,516.4 L520.2,523.4 L523.7,514.3 L527.3,516.6 L530.8,515.5 L534.4,520.9 L537.9,521.6 L541.5,505.7 L545.0,497.1 L548.6,496.7 L552.2,489.2 L555.7,496.7 L559.3,501.6 L562.8,505.3 L566.4,501.2 L569.9,494.4 L573.5,488.3 L577.1,484.6 L580.6,481.9 L584.2,488.3 L587.7,515.5 L591.3,487.6 L594.8,487.6 L598.4,483.7 L601.9,479.7 L605.5,481.2 L609.1,466.1 L612.6,464.9 L616.2,473.3 L619.7,466.1 L623.3,466.1 L626.8,466.7 L630.4,465.3 L634.0,458.9 L637.5,449.7 L641.1,458.3 L644.6,458.5 L648.2,457.9 L651.7,452.7 L655.3,468.0 L658.8,446.1 L662.4,454.7 L666.0,452.7 L669.5,444.5 L673.1,448.6 L676.6,469.0 L680.2,475.1 L683.7,467.6 L687.3,549.2 L690.8,487.3 L694.4,475.1 L698.0,463.9 L701.5,478.2 L705.1,587.3 L708.6,467.3 L712.2,482.2 L715.7,470.0 L719.3,481.2 L722.9,497.6 L726.4,507.1 L730.0,509.8 L733.5,494.5 L737.1,491.8 L740.6,483.4 L744.2,474.1 L747.7,484.6 L751.3,484.6 L754.9,473.9 L758.4,477.1 L762.0,478.9 L765.5,487.1 L769.1,495.3 L772.6,507.5 L776.2,497.6 L779.8,487.1 L783.3,480.9 L786.9,477.1 L790.4,470.4 L794.0,448.9 L797.5,458.4 L801.1,454.7 L804.6,448.9 L808.2,439.0 L811.8,441.0 L815.3,446.0 L818.9,453.4 L822.4,458.9 L826.0,442.2 L829.5,441.7 L833.1,441.5 L836.6,439.0 L840.2,438.0 L843.8,434.0 L847.3,436.7 L850.9,449.7 L854.4,444.2 L858.0,436.0 L861.5,427.3 L865.1,425.3 L868.7,431.0 L872.2,426.5 L875.8,446.0 L879.3,452.2 L882.9,453.7 L886.4,451.7 L890.0,451.2 L893.5,433.7 L897.1,463.6 L900.7,471.1 L904.2,476.8 L907.8,479.3 L911.3,486.6 L914.9,473.6 L918.4,469.9 L922.0,469.1 L925.6,469.9 L929.1,464.9 L932.7,457.4 L936.2,454.9 L939.8,461.1 L943.3,467.4 L946.9,471.1 L950.4,475.3 L954.0,467.4 L957.6,479.1 L961.1,477.3 L964.7,481.1 L968.2,479.3 L971.8,476.1 L975.3,484.3 L978.9,481.1 L982.4,481.1 L986.0,483.6 L989.6,485.6 L993.1,490.6 L996.7,497.3 L1000.2,522.2 L1003.8,517.2 L1007.3,534.7 L1010.9,529.7 L1014.5,535.9 L1018.0,549.6 L1021.6,559.6 L1025.1,569.6 L1028.7,574.6 L1032.2,579.6 L1035.8,585.8 L1039.3,599.5 L1042.9,592.0" fill="none" stroke="#b75964" stroke-width="1.5" stroke-linejoin="round" stroke-linecap="round"/>
<path d="M79.2,721.3 L257.0,720.8 L310.3,720.6 L360.1,719.7 L395.7,719.3 L434.8,717.8 L445.5,717.1 L463.3,715.8 L481.0,714.1 L495.3,711.9 L513.0,709.8 L520.2,711.0 L527.3,709.3 L537.9,707.6 L541.5,706.2 L552.2,704.1 L562.8,704.1 L569.9,701.4 L573.5,701.4 L580.6,699.4 L587.7,699.0 L594.8,697.3 L601.9,695.6 L605.5,693.6 L612.6,691.4 L619.7,689.7 L623.3,687.7 L626.8,687.1 L634.0,684.1 L637.5,680.0 L641.1,681.7 L648.2,678.6 L651.7,678.1 L655.3,676.6 L658.8,673.0 L662.4,677.3 L666.0,678.3 L669.5,675.2 L673.1,673.5 L676.6,675.2 L680.2,680.9 L683.7,675.6 L687.3,680.7 L690.8,679.1 L694.4,674.0 L701.5,675.1 L705.1,675.8 L708.6,671.5 L712.2,672.1 L715.7,669.7 L719.3,674.7 L722.9,679.7 L726.4,684.0 L730.0,682.2 L733.5,679.4 L737.1,677.3 L740.6,674.1 L744.2,670.8 L747.7,674.1 L751.3,671.5 L754.9,668.7 L758.4,667.8 L762.0,668.2 L765.5,667.8 L769.1,667.6 L772.6,676.2 L776.2,673.2 L779.8,668.9 L783.3,666.1 L786.9,668.2 L790.4,661.8 L794.0,658.5 L797.5,658.5 L801.1,658.1 L804.6,658.1 L808.2,654.2 L811.8,651.0 L815.3,649.9 L818.9,649.3 L822.4,647.1 L826.0,643.9 L829.5,645.0 L833.1,643.4 L836.6,640.9 L840.2,638.5 L843.8,636.3 L847.3,633.8 L850.9,632.7 L854.4,629.4 L858.0,625.1 L861.5,620.8 L865.1,618.2 L868.7,615.9 L872.2,612.6 L875.8,614.8 L879.3,616.5 L882.9,612.0 L886.4,610.7 L890.0,610.0 L893.5,608.2 L897.1,612.0 L900.7,617.0 L904.2,618.9 L907.8,619.9 L911.3,618.2 L914.9,617.0 L918.4,616.2 L922.0,615.7 L925.6,613.2 L929.1,613.2 L932.7,613.7 L936.2,613.7 L939.8,618.2 L943.3,618.9 L946.9,619.4 L950.4,618.7 L954.0,617.5 L957.6,618.7 L961.1,619.9 L964.7,618.7 L968.2,617.7 L971.8,618.2 L975.3,617.0 L978.9,612.5 L982.4,610.0 L986.0,608.2 L989.6,605.7 L993.1,604.0 L996.7,603.2 L1000.2,606.5 L1003.8,601.5 L1007.3,599.0 L1010.9,599.0 L1014.5,599.5 L1018.0,600.0 L1021.6,601.2 L1025.1,602.5 L1028.7,602.0 L1032.2,601.2 L1035.8,601.5 L1039.3,608.7 L1042.9,604.0" fill="none" stroke="#fff" stroke-width="2.6" stroke-linejoin="round" stroke-linecap="butt"/>
<path d="M79.2,721.3 L257.0,720.8 L310.3,720.6 L360.1,719.7 L395.7,719.3 L434.8,717.8 L445.5,717.1 L463.3,715.8 L481.0,714.1 L495.3,711.9 L513.0,709.8 L520.2,711.0 L527.3,709.3 L537.9,707.6 L541.5,706.2 L552.2,704.1 L562.8,704.1 L569.9,701.4 L573.5,701.4 L580.6,699.4 L587.7,699.0 L594.8,697.3 L601.9,695.6 L605.5,693.6 L612.6,691.4 L619.7,689.7 L623.3,687.7 L626.8,687.1 L634.0,684.1 L637.5,680.0 L641.1,681.7 L648.2,678.6 L651.7,678.1 L655.3,676.6 L658.8,673.0 L662.4,677.3 L666.0,678.3 L669.5,675.2 L673.1,673.5 L676.6,675.2 L680.2,680.9 L683.7,675.6 L687.3,680.7 L690.8,679.1 L694.4,674.0 L701.5,675.1 L705.1,675.8 L708.6,671.5 L712.2,672.1 L715.7,669.7 L719.3,674.7 L722.9,679.7 L726.4,684.0 L730.0,682.2 L733.5,679.4 L737.1,677.3 L740.6,674.1 L744.2,670.8 L747.7,674.1 L751.3,671.5 L754.9,668.7 L758.4,667.8 L762.0,668.2 L765.5,667.8 L769.1,667.6 L772.6,676.2 L776.2,673.2 L779.8,668.9 L783.3,666.1 L786.9,668.2 L790.4,661.8 L794.0,658.5 L797.5,658.5 L801.1,658.1 L804.6,658.1 L808.2,654.2 L811.8,651.0 L815.3,649.9 L818.9,649.3 L822.4,647.1 L826.0,643.9 L829.5,645.0 L833.1,643.4 L836.6,640.9 L840.2,638.5 L843.8,636.3 L847.3,633.8 L850.9,632.7 L854.4,629.4 L858.0,625.1 L861.5,620.8 L865.1,618.2 L868.7,615.9 L872.2,612.6 L875.8,614.8 L879.3,616.5 L882.9,612.0 L886.4,610.7 L890.0,610.0 L893.5,608.2 L897.1,612.0 L900.7,617.0 L904.2,618.9 L907.8,619.9 L911.3,618.2 L914.9,617.0 L918.4,616.2 L922.0,615.7 L925.6,613.2 L929.1,613.2 L932.7,613.7 L936.2,613.7 L939.8,618.2 L943.3,618.9 L946.9,619.4 L950.4,618.7 L954.0,617.5 L957.6,618.7 L961.1,619.9 L964.7,618.7 L968.2,617.7 L971.8,618.2 L975.3,617.0 L978.9,612.5 L982.4,610.0 L986.0,608.2 L989.6,605.7 L993.1,604.0 L996.7,603.2 L1000.2,606.5 L1003.8,601.5 L1007.3,599.0 L1010.9,599.0 L1014.5,599.5 L1018.0,600.0 L1021.6,601.2 L1025.1,602.5 L1028.7,602.0 L1032.2,601.2 L1035.8,601.5 L1039.3,608.7 L1042.9,604.0" fill="none" stroke="#357c60" stroke-width="1.5" stroke-linejoin="round" stroke-linecap="round"/>
<path d="M463.3,721.4 L520.2,721.5 L612.6,720.8 L680.2,718.1 L715.7,718.6 L730.0,718.9 L765.5,718.9 L769.1,718.2 L790.4,717.6 L804.6,716.8 L822.4,715.6 L836.6,714.0 L850.9,713.6 L861.5,713.6 L893.5,711.2 L911.3,709.2 L925.6,706.4 L939.8,703.6 L946.9,702.2 L954.0,700.5 L961.1,700.0 L964.7,698.5 L968.2,698.3 L971.8,698.5 L978.9,697.8 L986.0,696.1 L989.6,694.9 L993.1,693.4 L996.7,691.2 L1000.2,688.6 L1003.8,687.7 L1007.3,686.2 L1010.9,683.1 L1014.5,681.8 L1018.0,679.5 L1021.6,678.3 L1025.1,676.7 L1028.7,676.3 L1032.2,673.6 L1035.8,673.6 L1039.3,677.6 L1042.9,673.4" fill="none" stroke="#fff" stroke-width="2.6" stroke-linejoin="round" stroke-linecap="butt"/>
<path d="M463.3,721.4 L520.2,721.5 L612.6,720.8 L680.2,718.1 L715.7,718.6 L730.0,718.9 L765.5,718.9 L769.1,718.2 L790.4,717.6 L804.6,716.8 L822.4,715.6 L836.6,714.0 L850.9,713.6 L861.5,713.6 L893.5,711.2 L911.3,709.2 L925.6,706.4 L939.8,703.6 L946.9,702.2 L954.0,700.5 L961.1,700.0 L964.7,698.5 L968.2,698.3 L971.8,698.5 L978.9,697.8 L986.0,696.1 L989.6,694.9 L993.1,693.4 L996.7,691.2 L1000.2,688.6 L1003.8,687.7 L1007.3,686.2 L1010.9,683.1 L1014.5,681.8 L1018.0,679.5 L1021.6,678.3 L1025.1,676.7 L1028.7,676.3 L1032.2,673.6 L1035.8,673.6 L1039.3,677.6 L1042.9,673.4" fill="none" stroke="#2d4d2d" stroke-width="1.5" stroke-linejoin="round" stroke-linecap="round"/>
</svg>
<svg class="abs" style="left:48px;top:781px" width="20" height="22" viewBox="0 0 20 22"><path d="M3.2 3.6L14.8 10.4L3.2 17.2Z" fill="#6e6e6e" stroke="#6e6e6e" stroke-width="2" stroke-linejoin="round"/></svg>
<div class="abs" style="left:121.5px;top:788.9px;width:1030.5px;height:5.7px;background:#2b69d6;"></div>
<div class="abs" style="left:113.8px;top:784.0px;width:15.9px;height:15.9px;box-sizing:border-box;border-radius:50%;background:#fff;border:1.2px solid #2b69d6;box-shadow:0 1.5px 3px rgba(0,0,0,.22);"></div>
<div class="abs" style="left:1143.9px;top:784.0px;width:15.9px;height:15.9px;box-sizing:border-box;border-radius:50%;background:#fff;border:1.2px solid #2b69d6;box-shadow:0 1.5px 3px rgba(0,0,0,.22);"></div>
<div class="tab" style="left:245px;width:199px"></div>
<div class="tab" style="left:444px;width:209px"></div>
<div class="tab" style="left:653px;width:232px"></div>
<div class="tab" style="left:885px;width:274px"></div>
<div class="tab" style="left:1159px;width:60px"></div>
<div class="abs" style="left:32px;top:838px;width:213px;height:2px;background:#15294b;"></div>
<svg class="abs" style="left:968px;top:817px" width="17" height="16" viewBox="0 0 17 16"><rect x="1" y="10.2" width="14.5" height="4.2" rx="1.6" fill="#727272"/><path d="M8.2 0.5V9.6M4.1 5.9L8.2 10.1L12.4 5.9" fill="none" stroke="#f8f9fb" stroke-width="3.2" stroke-linecap="round" stroke-linejoin="round"/><path d="M8.2 0.7V9.6M4.1 5.9L8.2 10.1L12.4 5.9" fill="none" stroke="#727272" stroke-width="1.8" stroke-linecap="round" stroke-linejoin="round"/></svg>
<svg class="abs" style="left:1182px;top:817px" width="16" height="15" viewBox="0 0 16 15"><path d="M3.5 7.1L11 3.5M3.5 7.1L11 10.7" stroke="#727272" stroke-width="1.5" fill="none"/><circle cx="3.5" cy="7.1" r="2.55" fill="#727272"/><circle cx="11" cy="3.5" r="2.5" fill="#727272"/><circle cx="11" cy="10.7" r="2.5" fill="#727272"/></svg>
<svg class="abs" style="left:1193.5px;top:844.5px" width="12" height="12" viewBox="0 0 12 12"><path d="M4.4 1.6H2.6Q1.5 1.6 1.5 2.7V7.7Q1.5 8.8 2.6 8.8H7.7Q8.8 8.8 8.8 7.7V6.2" fill="none" stroke="#1f61d0" stroke-width="1.3" stroke-linecap="round"/><path d="M4.6 6L9.3 1.4" fill="none" stroke="#1f61d0" stroke-width="1.3" stroke-linecap="round"/><path d="M6.6 0.6H10.3V4.2Z" fill="#1f61d0"/></svg>
<div id="title" class="t" style="left:46.99px;top:34.00px;font:400 28px/33.6px 'Liberation Serif', serif;color:#555;letter-spacing:0.045px;-webkit-text-stroke:0.25px #555;">Per capita CO<span class="s2">₂</span> emissions</div>
<div id="sub" class="t" style="left:47.10px;top:68.01px;font:400 13.6px/16.32px 'Liberation Sans', sans-serif;color:#5a5a5a;letter-spacing:0.204px;">Carbon dioxide (CO₂) emissions from <span class="dod">fossil fuels and industry</span>. Land use change is not included.</div>
<div id="add" class="t" style="left:69.89px;top:103.71px;font:700 12.6px/15.12px 'Liberation Sans', sans-serif;color:#2f6ed2;letter-spacing:-0.255px;">Add country or region</div>
<div id="allt" class="t" style="left:227.00px;top:106.00px;font:700 12px/14.4px 'Liberation Sans', sans-serif;color:#5b6880;letter-spacing:-0.374px;">All together</div>
<div id="rel" class="t" style="left:352.76px;top:104.21px;font:400 12.6px/15.12px 'Liberation Sans', sans-serif;color:#6a7590;letter-spacing:-0.079px;">Relative change</div>
<div id="y20" class="t" style="left:45.20px;top:210.81px;font:400 15.6px/18.72px 'Liberation Sans', sans-serif;color:#666;letter-spacing:0.961px;">20 t</div>
<div id="y15" class="t" style="left:45.20px;top:336.51px;font:400 15.6px/18.72px 'Liberation Sans', sans-serif;color:#666;letter-spacing:0.961px;">15 t</div>
<div id="y10" class="t" style="left:45.20px;top:462.10px;font:400 15.6px/18.72px 'Liberation Sans', sans-serif;color:#666;letter-spacing:0.961px;">10 t</div>
<div id="y5" class="t" style="left:54.20px;top:587.60px;font:400 15.6px/18.72px 'Liberation Sans', sans-serif;color:#666;letter-spacing:1.278px;">5 t</div>
<div id="y0" class="t" style="left:55.00px;top:713.01px;font:400 15.6px/18.72px 'Liberation Sans', sans-serif;color:#666;letter-spacing:0.878px;">0 t</div>
<div id="x1750" class="t" style="left:79.09px;top:728.60px;font:400 15.6px/18.72px 'Liberation Sans', sans-serif;color:#666;letter-spacing:1.083px;">1750</div>
<div id="x1800" class="t" style="left:238.77px;top:728.60px;font:400 15.6px/18.72px 'Liberation Sans', sans-serif;color:#666;letter-spacing:0.967px;">1800</div>
<div id="x1850" class="t" style="left:416.12px;top:728.60px;font:400 15.6px/18.72px 'Liberation Sans', sans-serif;color:#666;letter-spacing:0.967px;">1850</div>
<div id="x1900" class="t" style="left:594.25px;top:728.60px;font:400 15.6px/18.72px 'Liberation Sans', sans-serif;color:#666;letter-spacing:0.966px;">1900</div>
<div id="x1950" class="t" style="left:771.60px;top:728.60px;font:400 15.6px/18.72px 'Liberation Sans', sans-serif;color:#666;letter-spacing:0.966px;">1950</div>
<div id="x2000" class="t" style="left:949.74px;top:728.60px;font:400 15.6px/18.72px 'Liberation Sans', sans-serif;color:#666;letter-spacing:0.967px;">2000</div>
<div id="x2021" class="t" style="left:1005.89px;top:728.60px;font:400 15.6px/18.72px 'Liberation Sans', sans-serif;color:#666;letter-spacing:0.700px;">2021</div>
<div id="lUS" class="t" style="left:1046.42px;top:341.21px;font:400 12.8px/15.36px 'Liberation Sans', sans-serif;color:#b0355b;letter-spacing:0.238px;">United States</div>
<div id="lCA" class="t" style="left:1047.22px;top:356.00px;font:400 12.8px/15.36px 'Liberation Sans', sans-serif;color:#b3642c;letter-spacing:-0.344px;">Canada</div>
<div id="lCN" class="t" style="left:1047.22px;top:513.00px;font:400 12.8px/15.36px 'Liberation Sans', sans-serif;color:#72302f;letter-spacing:-0.274px;">China</div>
<div id="lZA" class="t" style="left:1046.42px;top:529.61px;font:400 12.8px/15.36px 'Liberation Sans', sans-serif;color:#2f63ad;letter-spacing:0.354px;">South Africa</div>
<div id="lEU" class="t" style="left:1046.42px;top:556.81px;font:400 12.8px/15.36px 'Liberation Sans', sans-serif;color:#5f3c8c;letter-spacing:0.168px;">European Union (27)</div>
<div id="lUK" class="t" style="left:1046.42px;top:583.11px;font:400 12.8px/15.36px 'Liberation Sans', sans-serif;color:#b3525e;letter-spacing:0.374px;">United Kingdom</div>
<div id="lWORLD" class="t" style="left:1047.22px;top:599.00px;font:400 12.8px/15.36px 'Liberation Sans', sans-serif;color:#2f775b;letter-spacing:0.593px;">World</div>
<div id="lIN" class="t" style="left:1046.42px;top:666.21px;font:400 12.8px/15.36px 'Liberation Sans', sans-serif;color:#2b4b2b;letter-spacing:0.152px;">India</div>
<div id="lKE" class="t" style="left:1046.42px;top:705.31px;font:400 12.8px/15.36px 'Liberation Sans', sans-serif;color:#a37e51;letter-spacing:0.018px;">Kenya</div>
<div id="src" class="t" style="left:46.42px;top:761.31px;font:400 12.4px/14.88px 'Liberation Sans', sans-serif;color:#666;letter-spacing:-0.053px;">Source: Global Carbon Project (2022); Population based on various sources (2023)</div>
<div id="url" class="t" style="left:841.00px;top:761.31px;font:400 12.4px/14.88px 'Liberation Sans', sans-serif;color:#666;letter-spacing:0.039px;">OurWorldInData.org/co2-and-greenhouse-gas-emissions • CC BY</div>
<div id="t1750" class="t" style="left:72.42px;top:784.50px;font:400 13.8px/16.56px 'Liberation Sans', sans-serif;color:#666;letter-spacing:0.780px;">1750</div>
<div id="t2021" class="t" style="left:1168.00px;top:784.50px;font:400 13.8px/16.56px 'Liberation Sans', sans-serif;color:#666;letter-spacing:0.780px;">2021</div>
<div id="tabC" class="t" style="left:115.22px;top:817.91px;font:400 13.8px/16.56px 'Liberation Sans', sans-serif;color:#1d3d63;letter-spacing:-0.181px;">CHART</div>
<div id="tabM" class="t" style="left:329.20px;top:817.91px;font:400 13.8px/16.56px 'Liberation Sans', sans-serif;color:#6b6b6b;letter-spacing:1.250px;">MAP</div>
<div id="tabT" class="t" style="left:528.00px;top:817.91px;font:400 13.8px/16.56px 'Liberation Sans', sans-serif;color:#6b6b6b;letter-spacing:-0.142px;">TABLE</div>
<div id="tabS" class="t" style="left:736.20px;top:817.91px;font:400 13.8px/16.56px 'Liberation Sans', sans-serif;color:#6b6b6b;letter-spacing:-0.346px;">SOURCES</div>
<div id="tabD" class="t" style="left:988.52px;top:817.91px;font:400 13.8px/16.56px 'Liberation Sans', sans-serif;color:#6b6b6b;letter-spacing:0.780px;">DOWNLOAD</div>
<div id="rel1" class="t" style="left:942.20px;top:843.41px;font:400 11.8px/14.16px 'Liberation Sans', sans-serif;color:#777;letter-spacing:-0.050px;">Related:</div>
<div id="rel2" class="t" style="left:987.99px;top:843.41px;font:400 11.8px/14.16px 'Liberation Sans', sans-serif;color:#2a6cd1;letter-spacing:-0.118px;">CO₂ data: sources, methods and FAQs</div>
</body></html>
